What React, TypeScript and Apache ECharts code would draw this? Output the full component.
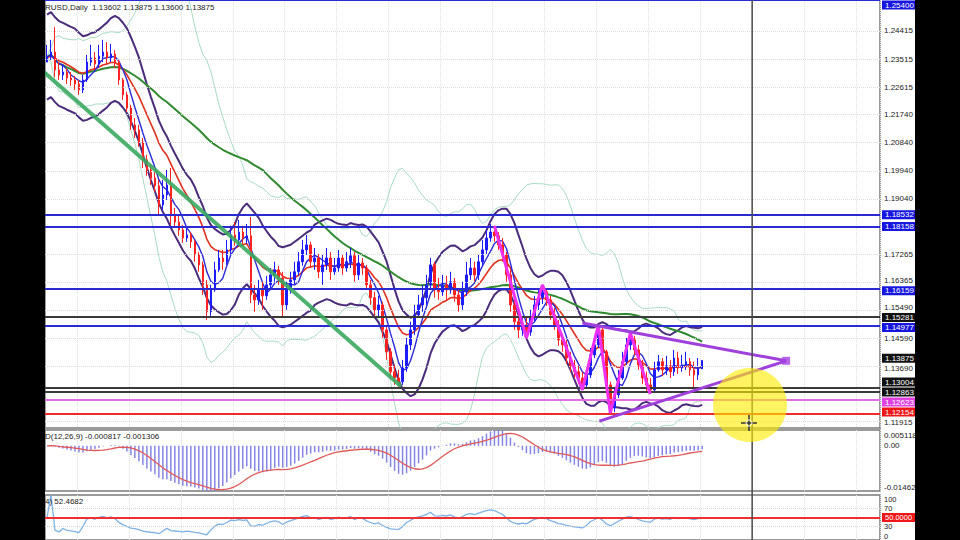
import React, { useEffect, useRef } from "react";
import * as echarts from "echarts";

// ---------- data (EURUSD daily) ----------
const closes = [
  1.2358, 1.2374, 1.2317, 1.2301, 1.2310, 1.2291, 1.2285, 1.2272, 1.2253, 1.2285,
  1.2342, 1.2355, 1.2336, 1.2361, 1.2374, 1.2355, 1.2368, 1.2342, 1.2285, 1.2237,
  1.2195, 1.2141, 1.2125, 1.2086, 1.2029, 1.1997, 1.1971, 1.1946, 1.1885, 1.1917,
  1.1949, 1.1853, 1.1830, 1.1805, 1.1779, 1.1789, 1.1767, 1.1725, 1.1693, 1.1629,
  1.1543, 1.1613, 1.1677, 1.1715, 1.1703, 1.1741, 1.1789, 1.1773, 1.1798, 1.1779,
  1.1786, 1.1597, 1.1581, 1.1613, 1.1594, 1.1629, 1.1661, 1.1677, 1.1651, 1.1565,
  1.1613, 1.1645, 1.1671, 1.1703, 1.1741, 1.1757, 1.1703, 1.1715, 1.1671, 1.1693,
  1.1715, 1.1671, 1.1683, 1.1715, 1.1683, 1.1703, 1.1722, 1.1661, 1.1699, 1.1683,
  1.1629, 1.1588, 1.1549, 1.1565, 1.1485, 1.1415, 1.1351, 1.1331, 1.1319, 1.1363,
  1.1437, 1.1485, 1.1533, 1.1565, 1.1588, 1.1629, 1.1693, 1.1613, 1.1607, 1.1629,
  1.1613, 1.1639, 1.1597, 1.1565, 1.1607, 1.1661, 1.1683, 1.1661, 1.1703, 1.1741,
  1.1779, 1.1798, 1.1786, 1.1757, 1.1725, 1.1661, 1.1565, 1.1511, 1.1485, 1.1501,
  1.1478, 1.1523, 1.1565, 1.1588, 1.1607, 1.1581, 1.1533, 1.1501, 1.1453, 1.1437,
  1.1395, 1.1370, 1.1351, 1.1331, 1.1309, 1.1341, 1.1405, 1.1437, 1.1485, 1.1415,
  1.1309, 1.1235, 1.1277, 1.1331, 1.1383, 1.1437, 1.1453, 1.1421, 1.1373, 1.1331,
  1.1309, 1.1293, 1.1357, 1.1383, 1.1357, 1.1370, 1.1351, 1.1395, 1.1363, 1.1373,
  1.1383, 1.1357, 1.1341, 1.1360, 1.13875,
];
const highs = [
  1.2397, 1.2413, 1.2454, 1.2342, 1.2333, 1.2323, 1.2310, 1.2297, 1.2285, 1.2301,
  1.2365, 1.2397, 1.2374, 1.2397, 1.2413, 1.2406, 1.2400, 1.2381, 1.2349, 1.2291,
  1.2247, 1.2205, 1.2163, 1.2141, 1.2099, 1.2045, 1.2013, 1.1990, 1.1965, 1.1965,
  1.1997, 1.2003, 1.1875, 1.1853, 1.1821, 1.1811, 1.1798, 1.1773, 1.1734, 1.1703,
  1.1645, 1.1629, 1.1703, 1.1741, 1.1741, 1.1773, 1.1818, 1.1830, 1.1837, 1.1818,
  1.1824, 1.1846, 1.1629, 1.1645, 1.1639, 1.1658, 1.1683, 1.1703, 1.1690, 1.1671,
  1.1639, 1.1671, 1.1703, 1.1734, 1.1773, 1.1789, 1.1767, 1.1747, 1.1728, 1.1725,
  1.1747, 1.1734, 1.1715, 1.1741, 1.1725, 1.1734, 1.1747, 1.1734, 1.1725, 1.1715,
  1.1693, 1.1645, 1.1607, 1.1594, 1.1575, 1.1501, 1.1427, 1.1373, 1.1357, 1.1389,
  1.1459, 1.1511, 1.1565, 1.1597, 1.1629, 1.1661, 1.1715, 1.1703, 1.1651, 1.1661,
  1.1658, 1.1671, 1.1651, 1.1619, 1.1639, 1.1703, 1.1715, 1.1703, 1.1725, 1.1773,
  1.1805, 1.1824, 1.1818, 1.1798, 1.1779, 1.1734, 1.1677, 1.1581, 1.1533, 1.1530,
  1.1523, 1.1549, 1.1594, 1.1613, 1.1629, 1.1619, 1.1594, 1.1555, 1.1517, 1.1472,
  1.1453, 1.1415, 1.1389, 1.1370, 1.1351, 1.1357, 1.1427, 1.1466, 1.1501, 1.1495,
  1.1421, 1.1319, 1.1299, 1.1357, 1.1415, 1.1459, 1.1475, 1.1466, 1.1437, 1.1389,
  1.1351, 1.1331, 1.1383, 1.1405, 1.1395, 1.1402, 1.1389, 1.1421, 1.1415, 1.1405,
  1.1415, 1.1395, 1.1383, 1.1395, 1.13875,
];
const lows = [
  1.2342, 1.2349, 1.2294, 1.2285, 1.2285, 1.2272, 1.2266, 1.2253, 1.2237, 1.2243,
  1.2278, 1.2330, 1.2317, 1.2323, 1.2342, 1.2336, 1.2342, 1.2323, 1.2269, 1.2221,
  1.2182, 1.2125, 1.2099, 1.2071, 1.2003, 1.1978, 1.1949, 1.1927, 1.1853, 1.1869,
  1.1901, 1.1821, 1.1811, 1.1786, 1.1763, 1.1767, 1.1747, 1.1703, 1.1671, 1.1597,
  1.1517, 1.1530, 1.1607, 1.1671, 1.1677, 1.1693, 1.1728, 1.1754, 1.1760, 1.1754,
  1.1760, 1.1571, 1.1543, 1.1565, 1.1549, 1.1581, 1.1613, 1.1639, 1.1629, 1.1527,
  1.1549, 1.1601, 1.1629, 1.1658, 1.1690, 1.1725, 1.1683, 1.1677, 1.1651, 1.1629,
  1.1677, 1.1645, 1.1661, 1.1671, 1.1661, 1.1671, 1.1683, 1.1639, 1.1645, 1.1661,
  1.1613, 1.1565, 1.1530, 1.1523, 1.1459, 1.1389, 1.1331, 1.1309, 1.1299, 1.1309,
  1.1351, 1.1421, 1.1469, 1.1523, 1.1543, 1.1565, 1.1613, 1.1588, 1.1581, 1.1594,
  1.1581, 1.1601, 1.1575, 1.1543, 1.1549, 1.1594, 1.1645, 1.1639, 1.1645, 1.1690,
  1.1728, 1.1767, 1.1767, 1.1741, 1.1703, 1.1639, 1.1543, 1.1485, 1.1459, 1.1466,
  1.1459, 1.1466, 1.1511, 1.1549, 1.1568, 1.1562, 1.1517, 1.1485, 1.1434, 1.1415,
  1.1376, 1.1351, 1.1331, 1.1312, 1.1293, 1.1299, 1.1331, 1.1395, 1.1427, 1.1395,
  1.1287, 1.1219, 1.1222, 1.1267, 1.1325, 1.1373, 1.1421, 1.1402, 1.1357, 1.1312,
  1.1287, 1.1280, 1.1287, 1.1351, 1.1338, 1.1341, 1.1331, 1.1338, 1.1344, 1.1351,
  1.1357, 1.1338, 1.1299, 1.1325, 1.13600,
];
const firstOpen = 1.2342;
const lastOpen = 1.13602;
const totalSlots = 209;

const priceMin = 1.1171;
const priceMax = 1.25407;
const priceTicks = [1.24415, 1.23515, 1.22615, 1.2174, 1.2084, 1.1994, 1.1904, 1.17265, 1.16365, 1.1549, 1.1459, 1.1369, 1.11915];

const levelValues = [1.254, 1.18532, 1.18158, 1.16159, 1.15281, 1.14977, 1.13004, 1.12863, 1.12623, 1.12154];
const levelKinds = ["blue", "blue", "blue", "blue", "black", "blue", "black", "black", "magenta", "red"];
const currentPrice = 1.13875;

const greenTrend = [[-0.5, 1.2307], [88.25, 1.1309]];
const zigzagPivots = [112, 120, 124, 134, 138, 141, 146, 151];
const triangleUpper = [[134, 1.1507], [185, 1.1386]];
const triangleLower = [[138.25, 1.1193], [185, 1.1386]];
const cursorSlot = 176.5;

const macdMin = -0.01462;
const macdMax = 0.005118;
const macdLabels = ["0.005118", "0.00", "-0.01462"];
const rsiLevels = [70, 30];
const rsiMid = 50;

const titleText = "RUSD,Daily  1.13602 1.13875 1.13600 1.13875";
const macdTitle = "D(12,26,9) -0.000817 -0.001306";
const rsiTitle = "4) 52.4682";

// ---------- indicator helpers ----------
function sma(src: number[], n: number) {
  return src.map((_, i) => {
    const s = Math.max(0, i - n + 1);
    let t = 0;
    for (let k = s; k <= i; k++) t += src[k];
    return t / (i - s + 1);
  });
}
function stdev(src: number[], n: number, mean: number[]) {
  return src.map((_, i) => {
    const s = Math.max(0, i - n + 1);
    let t = 0;
    for (let k = s; k <= i; k++) t += (src[k] - mean[i]) ** 2;
    return Math.sqrt(t / (i - s + 1));
  });
}
function ema(src: number[], n: number) {
  const a = 2 / (n + 1);
  let prev = src[0];
  return src.map((v, i) => {
    prev = i === 0 ? v : prev + a * (v - prev);
    return prev;
  });
}
function rsi(src: number[], n: number) {
  const out = [50];
  let ag = 0;
  let al = 0;
  for (let i = 1; i < src.length; i++) {
    const d = src[i] - src[i - 1];
    const g = Math.max(d, 0);
    const l = Math.max(-d, 0);
    if (i <= n) {
      ag += (g - ag) / i;
      al += (l - al) / i;
    } else {
      ag = (ag * (n - 1) + g) / n;
      al = (al * (n - 1) + l) / n;
    }
    out.push(al === 0 ? 100 : 100 - 100 / (1 + ag / al));
  }
  return out;
}

const FONT = "Liberation Sans";
const levelColors: Record<string, string> = { blue: "#2a2ad2", black: "#3a3a3a", magenta: "#e26ee2", red: "#ee2a2a" };
const levelBg: Record<string, string> = { blue: "#1616e0", black: "#111111", magenta: "#e040e0", red: "#ee1616" };

export default function App() {
  const ref = useRef<HTMLDivElement>(null);

  useEffect(() => {
    const chart = echarts.init(ref.current!, null, { renderer: "svg" });
    const N = closes.length;
    const opens = closes.map((c, i) => (i === 0 ? firstOpen : i === N - 1 ? lastOpen : closes[i - 1]));
    const candleData = closes.map((c, i) => {
      const o = opens[i];
      return [o, c, Math.min(lows[i], o, c), Math.max(highs[i], o, c)];
    });
    const fast = sma(closes, 5);
    const mid = ema(closes, 13);
    const slow = sma(closes, 55);
    const envC = sma(closes, 8);
    const envUp = envC.map((v) => v * 1.011);
    const envDn = envC.map((v) => v * 0.989);
    const bbMid = sma(closes, 20);
    const bbSd = stdev(closes, 20, bbMid);
    const bbUp = bbMid.map((m, i) => m + 3 * bbSd[i]);
    const bbDn = bbMid.map((m, i) => m - 3 * bbSd[i]);
    const e12 = ema(closes, 12);
    const e26 = ema(closes, 26);
    const macd = e12.map((v, i) => v - e26[i]);
    const signal = sma(macd, 9);
    const rsiVals = rsi(closes, 14);
    const zigzag = zigzagPivots.map((idx, k) => [idx, k % 2 === 0 ? highs[idx] : lows[idx]]);

    const cats = Array.from({ length: totalSlots }, (_, i) => String(i));
    const vSplit = {
      show: true,
      interval: (index: number) => index >= 8 && (index - 8) % 13 === 0,
      lineStyle: { color: "#e2e2e2", type: "dotted" as const, width: 1 },
    };
    const catAxis = (gridIndex: number) => ({
      type: "category" as const,
      gridIndex,
      data: cats,
      boundaryGap: true,
      axisLine: { show: false },
      axisTick: { show: false },
      axisLabel: { show: false },
      splitLine: vSplit,
    });
    const line = (data: number[], color: string, width: number, z: number, extra: any = {}) => ({
      type: "line",
      xAxisIndex: 0,
      yAxisIndex: 0,
      data,
      symbol: "none",
      silent: true,
      z,
      lineStyle: { color, width },
      ...extra,
    });

    const tickMarks = {
      silent: true,
      precision: 6,
      symbol: ["none", "none"],
      animation: false,
      label: { show: false },
      data: priceTicks.map((t) => ({ yAxis: t, lineStyle: { color: "#dcdcdc", type: "dotted", width: 1 } })),
    };
    const levelMarks = {
      silent: true,
      precision: 6,
      symbol: ["none", "none"],
      animation: false,
      label: { show: false },
      data: levelValues.map((v, i) => ({
        yAxis: v,
        lineStyle: { color: levelColors[levelKinds[i]], type: "solid", width: 2 },
      })),
    };

    const option: any = {
      animation: false,
      backgroundColor: "#ffffff",
      grid: [
        { left: 45, right: 80, top: 0, height: 428, show: true, borderColor: "#7a7a7a", borderWidth: 1.5, backgroundColor: "#fff" },
        { left: 45, right: 80, top: 430, height: 61, show: true, borderColor: "#7a7a7a", borderWidth: 1.5 },
        { left: 45, right: 80, top: 495, height: 48, show: true, borderColor: "#7a7a7a", borderWidth: 1.5 },
      ],
      xAxis: [
        catAxis(0),
        { type: "value", gridIndex: 0, min: -0.5, max: totalSlots - 0.5, show: false },
        catAxis(1),
        catAxis(2),
      ],
      yAxis: [
        { type: "value", gridIndex: 0, min: priceMin, max: priceMax, position: "right", show: false, splitLine: { show: false } },
        { type: "value", gridIndex: 1, min: macdMin, max: macdMax, position: "right", show: false, splitLine: { show: false } },
        { type: "value", gridIndex: 2, min: 0, max: 100, position: "right", show: false, splitLine: { show: false } },
      ],
      series: [
        line(bbUp, "#a9dcc2", 1, 1, { markLine: tickMarks }),
        line(bbDn, "#a9dcc2", 1, 1),
        line(envUp, "#4b2c7c", 2, 2),
        line(envDn, "#4b2c7c", 2, 2),
        line(slow, "#2f8a2f", 2, 3),
        line(mid, "#e2301e", 1.6, 3),
        line(fast, "#2a2ad8", 1.4, 3),
        {
          type: "candlestick",
          xAxisIndex: 0,
          yAxisIndex: 0,
          data: candleData,
          barWidth: 2,
          silent: true,
          z: 4,
          itemStyle: { color: "#1c1cff", color0: "#ff2222", borderColor: "#1c1cff", borderColor0: "#ff2222", borderWidth: 1 },
        },
        {
          type: "line", xAxisIndex: 1, yAxisIndex: 0, data: greenTrend, symbol: "circle", symbolSize: 4,
          itemStyle: { color: "#3aa860" }, lineStyle: { color: "#3aa860", width: 4, opacity: 0.9 }, silent: true, z: 5,
        },
        {
          type: "line", xAxisIndex: 1, yAxisIndex: 0, data: zigzag, symbol: "none",
          lineStyle: { color: "#f030f0", width: 3 }, silent: true, z: 5,
        },
        {
          type: "line", xAxisIndex: 1, yAxisIndex: 0, data: triangleUpper, symbol: "none",
          lineStyle: { color: "#9f3fdc", width: 3 }, silent: true, z: 6, markLine: levelMarks,
        },
        {
          type: "line", xAxisIndex: 1, yAxisIndex: 0, data: triangleLower, symbol: "none",
          lineStyle: { color: "#9f3fdc", width: 3 }, silent: true, z: 6,
        },
        {
          type: "scatter", xAxisIndex: 1, yAxisIndex: 0, data: [triangleUpper[1]], symbol: "rect", symbolSize: 8,
          itemStyle: { color: "#a440e0" }, silent: true, z: 7,
        },
        {
          type: "bar", xAxisIndex: 2, yAxisIndex: 1, data: macd, barWidth: 1.5, silent: true,
          itemStyle: { color: "#8585e6" },
        },
        {
          type: "line", xAxisIndex: 2, yAxisIndex: 1, data: signal, symbol: "none", silent: true,
          lineStyle: { color: "#e05858", width: 1.3 }, z: 3,
        },
        {
          type: "line", xAxisIndex: 3, yAxisIndex: 2, data: rsiVals, symbol: "none", silent: true,
          lineStyle: { color: "#7fb2e4", width: 1.3 }, z: 3,
          markLine: {
            silent: true, precision: 4, symbol: ["none", "none"], animation: false, label: { show: false },
            data: [
              ...rsiLevels.map((v) => ({ yAxis: v, lineStyle: { color: "#d4d4d4", type: "dotted", width: 1 } })),
              { yAxis: rsiMid, lineStyle: { color: "#ee3030", type: "solid", width: 2 } },
            ],
          },
        },
      ],
    };
    chart.setOption(option);

    const yPix = (axis: number, v: number) => chart.convertToPixel({ yAxisIndex: axis } as any, v) as unknown as number;
    const xPix = (v: number) => chart.convertToPixel({ xAxisIndex: 1 } as any, v) as unknown as number;

    // right-axis labels of the price panel, spread apart so none overlap
    type Lab = { text: string; y: number; bg?: string };
    const labs: Lab[] = [
      ...priceTicks.map((t) => ({ text: t.toFixed(5), y: yPix(0, t) })),
      ...levelValues.map((v, i) => ({ text: v.toFixed(5), y: yPix(0, v), bg: levelBg[levelKinds[i]] })),
      { text: currentPrice.toFixed(5), y: yPix(0, currentPrice), bg: "#111" },
    ].sort((a, b) => a.y - b.y);
    const H = 10;
    for (let it = 0; it < 200; it++) {
      for (let k = 1; k < labs.length; k++) {
        const gap = labs[k].y - labs[k - 1].y;
        if (gap < H) {
          const d = (H - gap) / 2;
          labs[k - 1].y -= d;
          labs[k].y += d;
        }
      }
      labs.forEach((l) => {
        l.y = Math.max(H / 2, Math.min(427 - H / 2, l.y));
      });
    }

    const txt = (text: string, x: number, y: number, size = 8, bg?: string) => ({
      type: "text", z: 90, silent: true,
      style: {
        text, x, y, fill: bg ? "#fff" : "#222", font: `${size}px "${FONT}"`,
        align: "left", verticalAlign: "middle", textAlign: "left", textVerticalAlign: "middle",
        ...(bg ? { backgroundColor: bg, padding: [1, 3, 0, 3] } : {}),
      },
    });

    const cx = xPix(cursorSlot);
    const mTop = yPix(1, macdMax);
    const mZero = yPix(1, 0);
    const mBot = yPix(1, macdMin);
    const rTop = yPix(2, 100);
    const rBot = Math.min(yPix(2, 0), 540) - 4;

    chart.setOption({
      graphic: [
        { type: "line", z: 50, silent: true, shape: { x1: cx, y1: 0, x2: cx, y2: 540 }, style: { stroke: "#4a4a4a", lineWidth: 1.5 } },
        { type: "circle", z: 60, silent: true, shape: { cx: 750, cy: 405, r: 37 }, style: { fill: "rgba(255,236,0,0.62)" } },
        { type: "line", z: 61, silent: true, shape: { x1: 741, y1: 423, x2: 757, y2: 423 }, style: { stroke: "#333", lineWidth: 1.5 } },
        { type: "line", z: 61, silent: true, shape: { x1: 749, y1: 415, x2: 749, y2: 431 }, style: { stroke: "#333", lineWidth: 1.5 } },
        { type: "circle", z: 61, silent: true, shape: { cx: 749, cy: 423, r: 3 }, style: { fill: "none", stroke: "#fff", lineWidth: 1 } },
        txt(titleText, 45, 7),
        txt(macdTitle, 45, 436),
        txt(rsiTitle, 45, 501),
        ...labs.map((l) => txt(l.text, l.bg ? 882 : 884, l.y, 8, l.bg)),
        txt(macdLabels[0], 884, mTop + 5),
        txt(macdLabels[1], 884, mZero),
        txt(macdLabels[2], 884, mBot - 4),
        txt("100", 884, rTop + 4.5, 7.5),
        txt(String(rsiLevels[0]), 884, yPix(2, rsiLevels[0]), 7.5),
        txt(rsiMid.toFixed(4), 882, yPix(2, rsiMid), 7.5, "#ee1616"),
        txt(String(rsiLevels[1]), 884, yPix(2, rsiLevels[1]), 7.5),
        txt("0", 884, rBot, 7.5),
        { type: "rect", z: 100, silent: true, shape: { x: 0, y: 0, width: 45, height: 540 }, style: { fill: "#000" } },
        { type: "rect", z: 100, silent: true, shape: { x: 915, y: 0, width: 45, height: 540 }, style: { fill: "#000" } },
      ],
    });

    return () => chart.dispose();
  }, []);

  return (
    <div
      ref={ref}
      style={{ position: "fixed", left: 0, top: 0, width: 960, height: 540, background: "#fff" }}
    />
  );
}
